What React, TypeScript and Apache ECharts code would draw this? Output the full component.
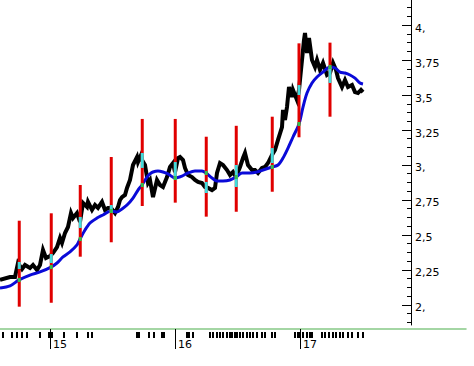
import React, { useEffect, useRef } from "react";
import * as echarts from "echarts";

// Price (decimal years, value)
const priceDates = [14.600,14.680,14.720,14.744,14.776,14.800,14.840,14.864,14.896,14.920,14.944,14.968,15.000,15.024,15.056,15.080,15.096,15.120,15.144,15.168,15.184,15.216,15.240,15.264,15.296,15.304,15.336,15.360,15.384,15.416,15.440,15.464,15.488,15.520,15.544,15.560,15.576,15.600,15.616,15.640,15.664,15.696,15.704,15.728,15.736,15.760,15.776,15.784,15.800,15.824,15.856,15.880,15.904,15.936,15.960,15.984,16.000,16.024,16.040,16.064,16.080,16.104,16.136,16.160,16.184,16.216,16.240,16.264,16.296,16.320,16.336,16.360,16.384,16.416,16.440,16.464,16.488,16.520,16.544,16.560,16.584,16.616,16.640,16.664,16.696,16.720,16.744,16.776,16.800,16.824,16.856,16.864,16.880,16.896,16.912,16.936,16.944,16.976,16.992,17.016,17.032,17.040,17.056,17.072,17.096,17.120,17.136,17.160,17.184,17.216,17.240,17.264,17.288,17.304,17.336,17.360,17.384,17.416,17.440,17.464,17.488,17.504];
const priceValues = [2.179,2.2,2.2,2.3,2.257,2.286,2.264,2.286,2.25,2.286,2.393,2.336,2.35,2.371,2.414,2.479,2.443,2.514,2.557,2.657,2.621,2.657,2.593,2.729,2.7,2.736,2.679,2.714,2.693,2.736,2.679,2.693,2.693,2.657,2.7,2.75,2.771,2.786,2.836,2.893,3.0,3.057,3.021,3.071,3.036,3.0,2.914,2.871,2.893,2.771,2.893,2.857,2.843,2.914,2.986,3.014,2.95,3.05,3.057,3.036,2.979,2.929,2.914,2.893,2.879,2.871,2.843,2.836,2.821,2.836,2.943,3.014,3.0,2.964,2.929,2.95,2.914,2.986,3.05,3.086,3.0,2.964,2.964,2.943,2.979,2.986,3.014,3.071,3.107,3.179,3.271,3.393,3.321,3.414,3.557,3.486,3.536,3.464,3.536,3.75,3.893,3.943,3.8,3.907,3.75,3.7,3.75,3.679,3.729,3.643,3.657,3.729,3.679,3.621,3.557,3.607,3.557,3.571,3.521,3.514,3.536,3.521];

// Moving average
const maDates = [14.6,14.68,14.752,14.84,14.92,15.008,15.056,15.104,15.16,15.216,15.24,15.28,15.32,15.376,15.424,15.488,15.536,15.576,15.616,15.664,15.704,15.736,15.776,15.8,15.824,15.864,15.904,15.944,16.0,16.056,16.104,16.16,16.216,16.248,16.296,16.336,16.384,16.44,16.488,16.536,16.6,16.656,16.704,16.776,16.824,16.864,16.904,16.944,16.992,17.024,17.056,17.096,17.136,17.184,17.24,17.28,17.32,17.36,17.4,17.44,17.48,17.504];
const maValues = [2.121,2.136,2.179,2.214,2.236,2.271,2.3,2.343,2.379,2.429,2.471,2.536,2.586,2.621,2.643,2.671,2.664,2.686,2.714,2.764,2.821,2.857,2.914,2.936,2.95,2.957,2.95,2.936,2.907,2.921,2.943,2.957,2.957,2.943,2.907,2.886,2.886,2.893,2.914,2.943,2.943,2.95,2.964,2.986,3.0,3.05,3.121,3.2,3.293,3.414,3.514,3.586,3.629,3.664,3.7,3.693,3.664,3.657,3.643,3.621,3.586,3.579];

// Quarterly range bars
const qDates = [14.754,15.010,15.242,15.490,15.738,16.002,16.250,16.490,16.778,16.992,17.240];
const qLow = [1.988,2.016,2.345,2.448,2.707,2.731,2.631,2.666,2.809,3.198,3.345];
const qHigh = [2.602,2.655,2.857,3.057,3.329,3.329,3.202,3.28,3.345,3.869,3.874];
const qPriceLow = [2.257,2.3,2.55,2.657,2.979,2.893,2.8,2.843,3.014,3.5,3.586];
const qPriceHigh = [2.307,2.364,2.629,2.714,3.086,3.021,2.879,3.0,3.121,3.571,3.7];
const qMa = [2.179,2.271,2.471,2.671,2.857,2.907,2.943,2.914,2.986,3.293,3.7];

// Event marks under the axis
const markDates = [14.624,14.696,14.736,14.776,14.816,14.92,14.992,15.016,15.112,15.216,15.304,15.336,15.696,15.712,15.792,15.832,15.896,15.912,16.096,16.112,16.144,16.28,16.304,16.336,16.36,16.384,16.416,16.44,16.456,16.48,16.496,16.52,16.544,16.576,16.6,16.624,16.656,16.696,16.72,16.776,16.8,16.96,16.984,17.0,17.024,17.056,17.08,17.096,17.176,17.2,17.232,17.264,17.288,17.32,17.344,17.384,17.416,17.464,17.504];

const yearTicks = [15, 16, 17];
const yMajor = [2, 2.25, 2.5, 2.75, 3, 3.25, 3.5, 3.75, 4];

const X_MIN = 14.6;
const X_MAX = 18.328;
const Y_MIN = 1.8571;
const Y_MAX = 4.1786;
const FONT = "DejaVu Sans";

export default function App() {
  const ref = useRef<HTMLDivElement>(null);
  useEffect(() => {
    if (!ref.current) return;
    const chart = echarts.init(ref.current, null, { renderer: "svg" });
    const yMinor: number[] = [];
    for (let k = 30; k <= 66; k++) {
      const v = k / 16;
      if (k % 4 !== 0) yMinor.push(v);
    }
    const fmt = (v: number) => {
      if (Math.abs(v - Math.round(v)) < 1e-9) return `${Math.round(v)},`;
      return String(v).replace(".", ",");
    };
    chart.setOption({
      animation: false,
      backgroundColor: "#ffffff",
      grid: { left: 0, right: 8, top: 0, height: 325 },
      xAxis: [
        {
          type: "value",
          min: X_MIN,
          max: X_MAX,
          position: "bottom",
          offset: 4,
          splitLine: { show: false },
          axisLine: { show: true, onZero: false, lineStyle: { color: "#86c986", width: 1.5 } },
          axisTick: { show: true, customValues: yearTicks, length: 20, lineStyle: { color: "#000", width: 1 } },
          axisLabel: {
            show: true,
            customValues: yearTicks,
            formatter: (v: number) => String(Math.round(v)),
            align: "left",
            padding: [0, 0, 0, 3],
            margin: 10,
            color: "#000",
            fontFamily: FONT,
            fontSize: 11,
          },
        },
        {
          type: "value",
          min: X_MIN,
          max: X_MAX,
          position: "bottom",
          offset: 7,
          splitLine: { show: false },
          axisLine: { show: false },
          axisTick: { show: true, customValues: markDates, length: 6, lineStyle: { color: "#000", width: 2 } },
          axisLabel: { show: false },
        },
      ],
      yAxis: [
        {
          type: "value",
          position: "right",
          offset: -55,
          min: Y_MIN,
          max: Y_MAX,
          splitLine: { show: false },
          axisLine: { show: true, lineStyle: { color: "#000", width: 1 } },
          axisTick: { show: true, inside: true, customValues: yMajor, length: 9, lineStyle: { color: "#000" } },
          axisLabel: {
            show: true,
            customValues: yMajor,
            formatter: fmt,
            margin: 4,
            verticalAlign: "top",
            lineHeight: 6,
            color: "#000",
            fontFamily: FONT,
            fontSize: 11,
          },
        },
        {
          type: "value",
          position: "right",
          offset: -55,
          min: Y_MIN,
          max: Y_MAX,
          splitLine: { show: false },
          axisLine: { show: false },
          axisTick: { show: true, inside: true, customValues: yMinor, length: 4, lineStyle: { color: "#000" } },
          axisLabel: { show: false },
        },
      ],
      series: [
        {
          type: "line",
          data: priceDates.map((d, i) => [d, priceValues[i]]),
          symbol: "none",
          lineStyle: { color: "#000", width: 4, join: "miter" },
          z: 2,
        },
        {
          type: "line",
          data: maDates.map((d, i) => [d, maValues[i]]),
          symbol: "none",
          smooth: 0.3,
          lineStyle: { color: "#0a0ad8", width: 3 },
          z: 3,
        },
        {
          type: "custom",
          z: 5,
          data: qDates.map((d, i) => [d, qLow[i], qHigh[i], qPriceLow[i], qPriceHigh[i], qMa[i]]),
          encode: { x: 0, y: [1, 2] },
          renderItem: (params: any, api: any) => {
            const x = api.value(0);
            const lo = api.coord([x, api.value(1)]);
            const hi = api.coord([x, api.value(2)]);
            const cLo = api.coord([x, api.value(3)]);
            const cHi = api.coord([x, api.value(4)]);
            const m = api.coord([x, api.value(5)]);
            const w = 3;
            return {
              type: "group",
              children: [
                { type: "rect", shape: { x: hi[0] - w / 2, y: hi[1], width: w, height: lo[1] - hi[1] }, style: { fill: "#e00000" } },
                { type: "rect", shape: { x: cHi[0] - w / 2, y: cHi[1], width: w, height: cLo[1] - cHi[1] }, style: { fill: "#3fdcdc" } },
                { type: "rect", shape: { x: m[0] - w / 2, y: m[1] - 2, width: w, height: 4 }, style: { fill: "#30c050" } },
              ],
            };
          },
        },
      ],
    });
    return () => chart.dispose();
  }, []);
  return (
    <div
      ref={ref}
      style={{ position: "absolute", left: 0, top: 0, width: 474, height: 366, background: "#fff" }}
    />
  );
}
